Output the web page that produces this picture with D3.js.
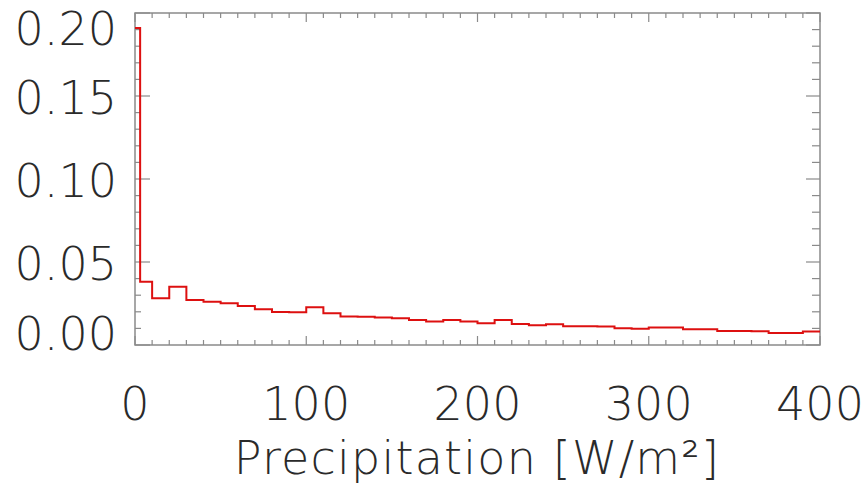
<!DOCTYPE html>
<html>
<head>
<meta charset="utf-8">
<script src="https://cdn.jsdelivr.net/npm/d3@7"></script>
<style>
  body { margin: 0; background: #fff; }
  text { font-family: "DejaVu Sans", sans-serif; font-weight: 200; fill: #2a2a2a; }
</style>
</head>
<body>
<svg width="865" height="488"></svg>
<script>
// histogram bins (left edges) and their values
const binEdges = [0, 3, 10, 20, 30, 40, 50, 60, 70, 80, 90, 100, 110, 120, 130, 140, 150, 160, 170, 180, 190,
  200, 210, 220, 230, 240, 250, 260, 270, 280, 290, 300, 310, 320, 330, 340, 350, 360, 370, 380, 390, 400];
const density = [0.191, 0.0381, 0.0281, 0.0351, 0.0271, 0.0261, 0.0251, 0.0235, 0.0215, 0.0199, 0.0197,
  0.0227, 0.0191, 0.0172, 0.0170, 0.0166, 0.0161, 0.0151, 0.0142, 0.0151, 0.0142,
  0.0131, 0.0151, 0.0127, 0.0119, 0.0125, 0.0113, 0.0113, 0.0111, 0.0101, 0.0098,
  0.0105, 0.0105, 0.0095, 0.0095, 0.0084, 0.0084, 0.0083, 0.0072, 0.0072, 0.0081];
const xTicks = [0, 100, 200, 300, 400];
const yTicks = [0, 0.05, 0.10, 0.15, 0.20];

const margin = { top: 13, right: 45, bottom: 143, left: 135 };
const width = 865, height = 488;

const svg = d3.select("svg");

const x = d3.scaleLinear().domain([0, 400]).range([margin.left, width - margin.right]);
const y = d3.scaleLinear().domain([0, 0.2]).range([height - margin.bottom, margin.top]);

const axisColor = "#8a8a8a";
const minorX = d3.range(0, 401, 10);
const minorY = d3.range(0, 0.2001, 0.01);

// frame
svg.append("rect")
  .attr("x", x(0)).attr("y", y(0.2))
  .attr("width", x(400) - x(0)).attr("height", y(0) - y(0.2))
  .attr("fill", "none").attr("stroke", axisColor).attr("stroke-width", 1.5);

// ticks on all four sides
const ticks = svg.append("g").attr("stroke", axisColor).attr("stroke-width", 1.2);
minorX.forEach(v => {
  const len = v % 100 === 0 ? 9 : 5;
  ticks.append("line").attr("x1", x(v)).attr("x2", x(v)).attr("y1", y(0)).attr("y2", y(0) - len);
  ticks.append("line").attr("x1", x(v)).attr("x2", x(v)).attr("y1", y(0.2)).attr("y2", y(0.2) + len);
});
minorY.forEach(v => {
  const major = Math.abs(v * 20 - Math.round(v * 20)) < 1e-6;
  const len = major ? 15 : 6;
  ticks.append("line").attr("x1", x(0)).attr("x2", x(0) + len).attr("y1", y(v)).attr("y2", y(v));
  ticks.append("line").attr("x1", x(400)).attr("x2", x(400) - (major ? 14 : 8)).attr("y1", y(v)).attr("y2", y(v));
});

// y labels (end labels pulled inward like the original)
const yShift = v => v === 0.2 ? 15 : v === 0 ? -12 : 1;
svg.append("g").selectAll("text").data(yTicks).join("text")
  .attr("x", 117)
  .attr("y", d => y(d) + yShift(d))
  .attr("dy", "0.36em")
  .attr("text-anchor", "end")
  .attr("font-size", 46)
  .text(d3.format(".2f"));

// x labels
svg.append("g").selectAll("text").data(xTicks).join("text")
  .attr("x", d => x(d))
  .attr("y", 420)
  .attr("text-anchor", "middle")
  .attr("font-size", 46)
  .text(d => d);

svg.append("text")
  .attr("x", (232 + 722) / 2)
  .attr("y", 474)
  .attr("text-anchor", "middle")
  .attr("font-size", 46)
  .attr("letter-spacing", 1.2)
  .text("Precipitation [W/m²]");

// step histogram
const pts = density.map((d, i) => [binEdges[i], d]);
pts.push([binEdges[binEdges.length - 1], density[density.length - 1]]);
const line = d3.line().x(d => x(d[0])).y(d => y(d[1])).curve(d3.curveStepAfter);
svg.append("path")
  .attr("d", line(pts))
  .attr("fill", "none")
  .attr("stroke", "#dd1010")
  .attr("stroke-width", 2);
</script>
</body>
</html>
